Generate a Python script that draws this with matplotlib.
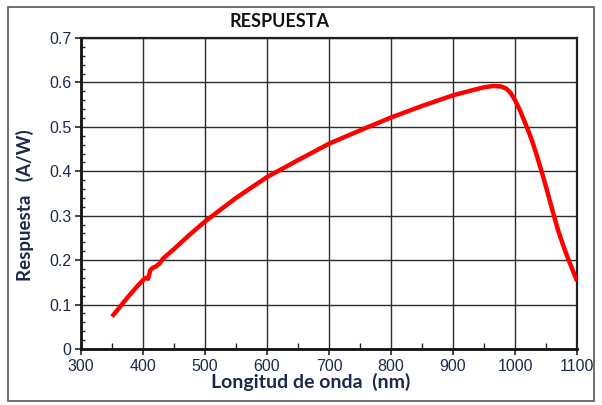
import numpy as np
import matplotlib.pyplot as plt
from matplotlib.patches import Rectangle
from matplotlib.ticker import MultipleLocator

# Spectral responsivity curve (wavelength in nm, response in A/W)
wavelength = [350, 360, 375, 390, 400, 404, 408, 412, 416, 420, 427, 432,
              450, 475, 500, 550, 600, 650, 700, 750, 800, 850, 900,
              930, 950, 965, 977, 986, 993, 1000, 1008, 1016, 1024, 1030,
              1035, 1040, 1046, 1052, 1058, 1064, 1070, 1077, 1084, 1092,
              1100]
response = [0.073, 0.090, 0.116, 0.140, 0.155, 0.160, 0.158, 0.178, 0.183,
            0.185, 0.193, 0.203, 0.225, 0.257, 0.287, 0.340, 0.387, 0.425,
            0.462, 0.492, 0.521, 0.547, 0.571, 0.582, 0.589, 0.592, 0.591,
            0.586, 0.576, 0.560, 0.537, 0.510, 0.482, 0.458, 0.436, 0.413,
            0.385, 0.355, 0.324, 0.294, 0.265, 0.236, 0.209, 0.181, 0.153]

x_ticks = [300, 400, 500, 600, 700, 800, 900, 1000, 1100]
y_ticks = [0, 0.1, 0.2, 0.3, 0.4, 0.5, 0.6, 0.7]
y_tick_labels = ["0", "0.1", "0.2", "0.3", "0.4", "0.5", "0.6", "0.7"]

navy = "#1c2a4a"

fig = plt.figure(figsize=(6.02, 4.05), dpi=100)
ax = fig.add_axes([0.1346, 0.1383, 0.8239, 0.7679])

# outer chart frame
fig.patches.append(Rectangle((0.013, 0.010), 0.973, 0.973, transform=fig.transFigure,
                             fill=False, ec="#555555", lw=1.2))

ax.plot(wavelength, response, color="#ff0000", lw=3.2, solid_capstyle="butt",
        solid_joinstyle="round", zorder=3)

ax.set_xlim(300, 1100)
ax.set_ylim(0, 0.7)
ax.set_xticks(x_ticks)
ax.set_yticks(y_ticks)
ax.set_yticklabels(y_tick_labels)
ax.xaxis.set_minor_locator(MultipleLocator(50))
ax.yaxis.set_minor_locator(MultipleLocator(0.02))
ax.grid(True, which="major", color="#2b2b2b", lw=1.0)
ax.set_axisbelow(True)

for side in ["top", "right"]:
    ax.spines[side].set_linewidth(1.6)
    ax.spines[side].set_color("#222222")
for side in ["left", "bottom"]:
    ax.spines[side].set_linewidth(2.0)
    ax.spines[side].set_color("#111111")

ax.tick_params(which="major", direction="out", length=4, width=1.2, color="#222222",
               labelsize=11.5, labelcolor=navy, pad=3)
ax.tick_params(which="minor", direction="in", length=3, width=1.0, color="#222222")
ax.tick_params(axis="x", which="minor", direction="in", length=4)
for lbl in ax.get_xticklabels() + ax.get_yticklabels():
    lbl.set_family("Liberation Sans")

ax.set_xlabel("Longitud de onda  (nm)", fontsize=14, fontweight="bold", color=navy,
              family="Lato")
ax.xaxis.set_label_coords(0.464, -0.078)
ax.set_ylabel("Respuesta   (A/W)", fontsize=13.5, fontweight="bold", color=navy,
              family="Lato")
ax.yaxis.set_label_coords(-0.095, 0.463)
fig.text(0.465, 0.947, "RESPUESTA", ha="center", va="center", fontsize=13,
         fontweight="bold", color="#111111", family="Lato")

fig.savefig("out.png", dpi=100)
